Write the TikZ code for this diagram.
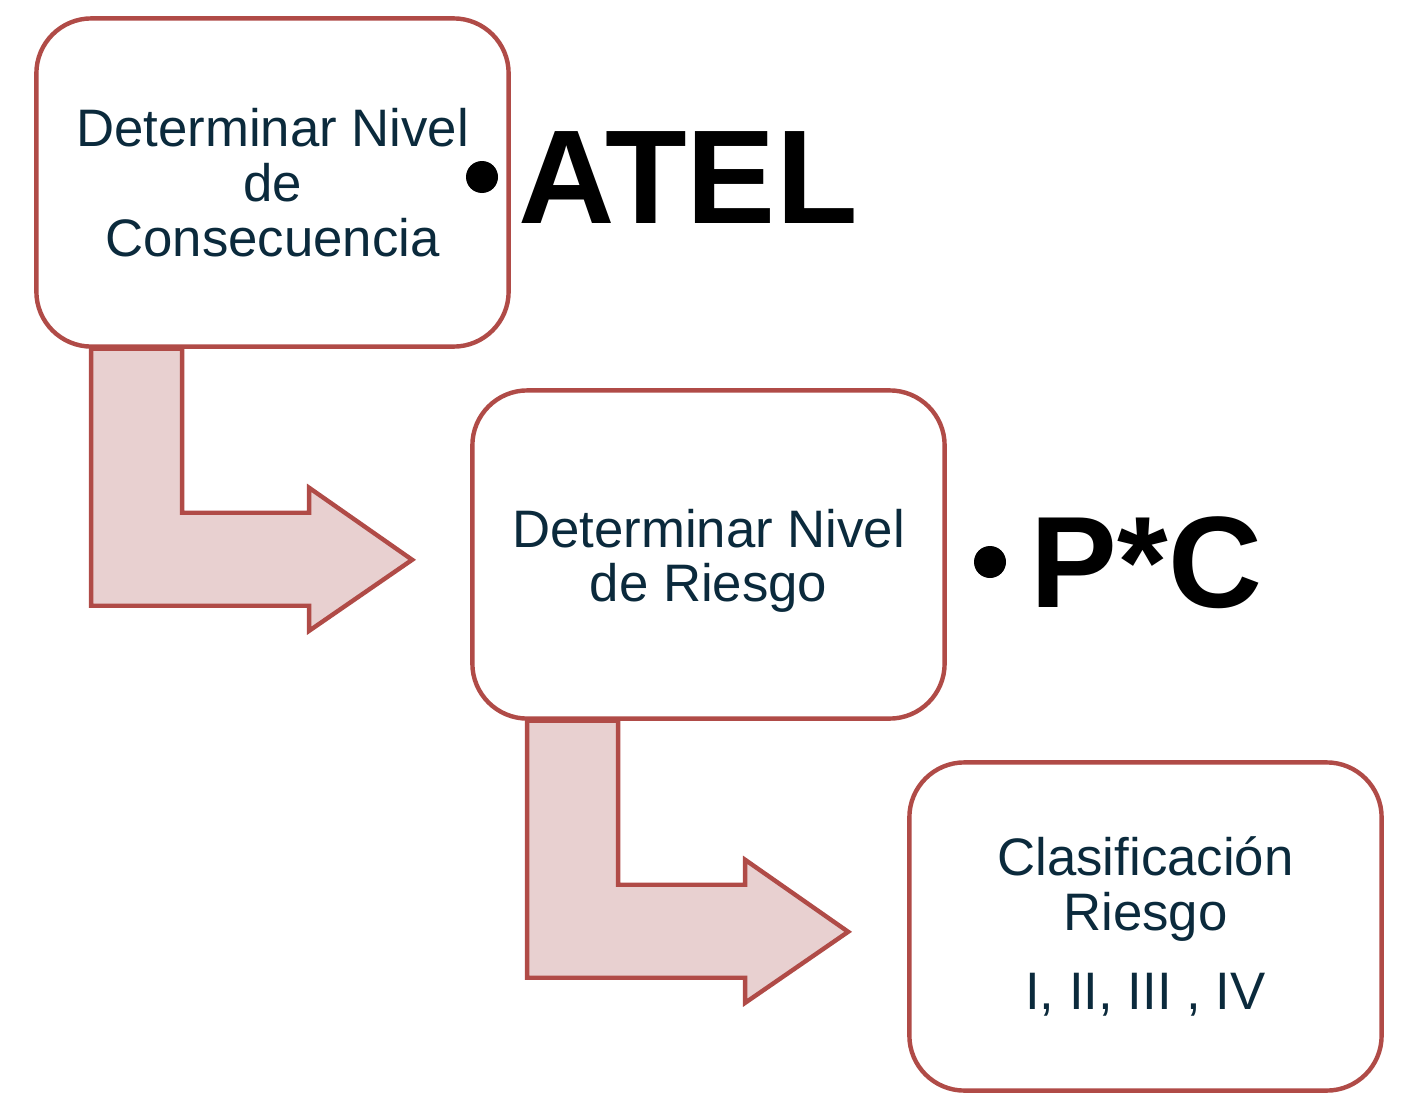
\documentclass[tikz,border=0pt]{standalone}
\usepackage{fontspec}
\setmainfont{Liberation Sans}
\usepackage{tikz}
\usetikzlibrary{positioning,backgrounds}
\definecolor{edgered}{HTML}{B04B47}
\definecolor{arrowfill}{HTML}{E8D0D0}
\definecolor{inktext}{HTML}{0B2A3C}
\tikzset{
  stepbox/.style={
    shape = rectangle,
    draw = edgered,
    fill = white,
    line width = 1.25pt,
    rounded corners = 0.55cm,
    minimum width = 4.72cm,
    minimum height = 3.28cm,
    align = center,
    text = inktext,
    font = \fontsize{15}{15.6}\selectfont
  },
  bentarrow/.style={
    draw = edgered,
    fill = arrowfill,
    line width = 1.25pt
  },
  bigword/.style={
    anchor = base west,
    inner sep = 0pt,
    font = \fontsize{38}{40}\selectfont\bfseries
  },
  dot/.style={
    fill = black
  }
}
\begin{document}
\begin{tikzpicture}[x=0.01cm, y=-0.01cm]
  \useasboundingbox (0,0) rectangle (1402,1103);

  \node[stepbox] (cons) at (272.5,182.5) {Determinar Nivel\\de\\Consecuencia};
  \node[stepbox] (riesgo) at (708.5,554.5) {\rule{0pt}{14.5pt}Determinar Nivel\\de Riesgo};
  \node[stepbox] (clasif) at (1145.5,926.5) {Clasificación\\Riesgo\\[6.8pt]I, II, III , IV};

  % bent arrows below the boxes
  \begin{scope}[on background layer]
  \draw[bentarrow] (cons.south west) ++(57,0) -- ++(91,0) -- ++(0,164) -- ++(127,0)
     -- ++(0,-25) -- ++(103,72) -- ++(-103,71) -- ++(0,-25) -- ++(-218,0) -- cycle;
  \draw[bentarrow] (riesgo.south west) ++(57,0) -- ++(91,0) -- ++(0,164) -- ++(127,0)
     -- ++(0,-25) -- ++(103,72) -- ++(-103,71) -- ++(0,-25) -- ++(-218,0) -- cycle;
  \end{scope}

  % bullets
  \fill[dot] (482,177) circle (16);
  \node[bigword] (atel) at (518,223) {ATEL};
  \fill[dot] (990,562) circle (16);
  \node[bigword, font=\fontsize{37}{40}\selectfont\bfseries] (pc) at (1030,607) {P*C};
\end{tikzpicture}
\end{document}
